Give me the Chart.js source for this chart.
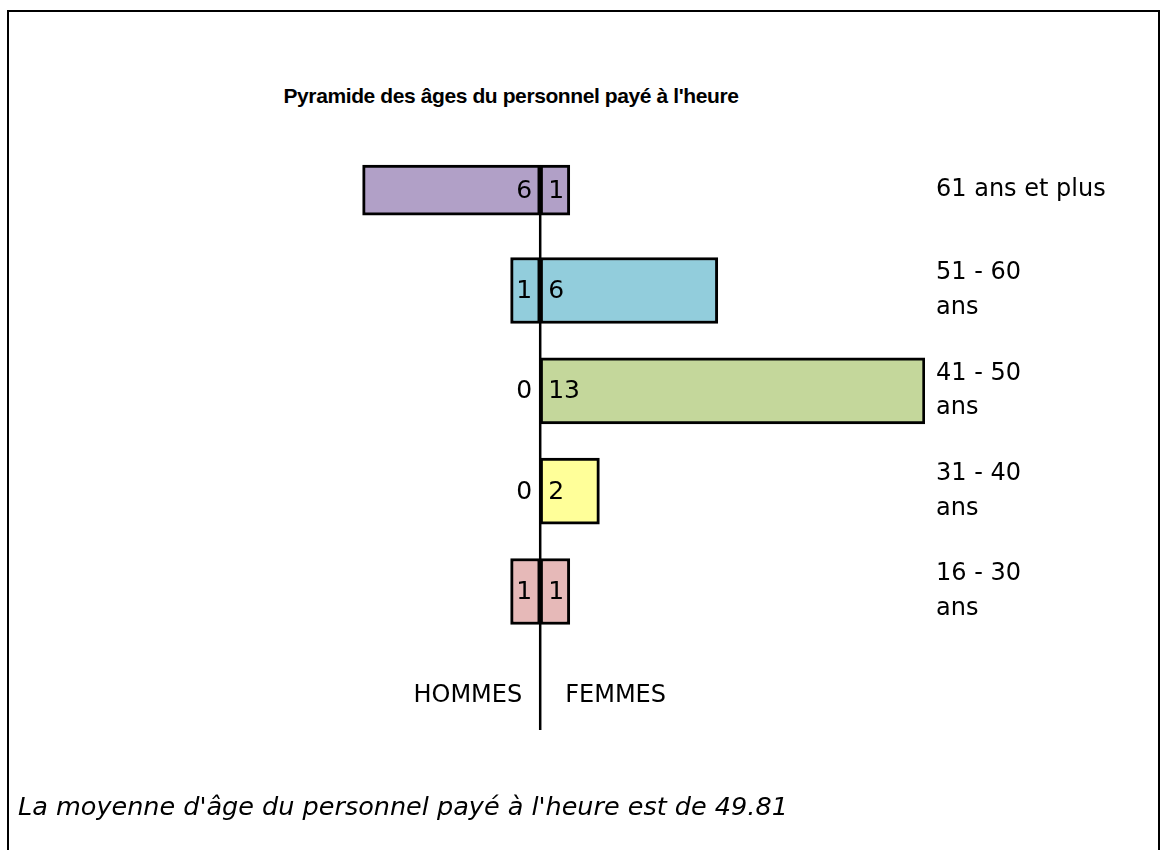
<!DOCTYPE html>
<html>
<head>
<meta charset="utf-8">
<script src="https://cdn.jsdelivr.net/npm/chart.js@4"></script>
<style>
  html, body { margin: 0; padding: 0; background: #fff; width: 1166px; height: 850px; overflow: hidden; }
  .cadre { position: absolute; left: 7px; top: 10px; width: 1149px; height: 900px; border: 2px solid #000; border-bottom: none; }
  .titre { position: absolute; left: 0; width: 1022px; top: 84px; text-align: center; letter-spacing: -0.4px;
           font: bold 21px "Liberation Sans", Arial, sans-serif; color: #000; }
  .note { position: absolute; left: 18px; top: 791px; font: italic 25.5px "DejaVu Sans", sans-serif; color: #000; }
  canvas { position: absolute; left: 0; top: 0; }
</style>
</head>
<body>
<div class="cadre"></div>
<div class="titre">Pyramide des âges du personnel payé à l'heure</div>
<canvas id="pyramide" width="1166" height="850"></canvas>
<div class="note">La moyenne d'âge du personnel payé à l'heure est de 49.81</div>
<script>
'use strict';

// tranches d'âge (dernière ligne vide = rangée HOMMES / FEMMES)
const tranches = [['61 ans et plus'], ['51 - 60', 'ans'], ['41 - 50', 'ans'], ['31 - 40', 'ans'], ['16 - 30', 'ans'], ''];
const hommes = [6, 1, 0, 0, 1];
const femmes = [1, 6, 13, 2, 1];
const couleurs = ['#b1a0c7', '#92cddc', '#c4d79b', '#ffff99', '#e6b9b8'];

const police = '"DejaVu Sans", sans-serif';

function serie(valeurs, signe, garder) {
  return valeurs.map((v, i) => (garder(i) ? signe * v : null));
}

function dataset(label, data, epaisseur) {
  return {
    label,
    data,
    backgroundColor: couleurs,
    borderColor: '#000',
    borderWidth: 3,
    borderSkipped: false,
    barThickness: epaisseur,
    stack: 'pyramide',
  };
}

// valeurs dans les barres + axe central + HOMMES / FEMMES
const etiquettes = {
  id: 'etiquettes',
  afterDatasetsDraw(chart) {
    const ctx = chart.ctx;
    const x0 = chart.scales.x.getPixelForValue(0);
    const yScale = chart.scales.y;
    ctx.save();
    ctx.fillStyle = '#000';
    ctx.textBaseline = 'middle';
    ctx.font = '25px ' + police;
    chart.data.datasets.forEach((ds, d) => {
      const meta = chart.getDatasetMeta(d);
      meta.data.forEach((bar, i) => {
        const v = ds.data[i];
        if (v === null || v === undefined) return;
        if (ds.label.startsWith('H')) {
          ctx.textAlign = 'right';
          ctx.fillText(String(Math.abs(v)), x0 - 8, bar.y + 1);
        } else {
          ctx.textAlign = 'left';
          ctx.fillText(String(v), x0 + 8, bar.y + 1);
        }
      });
    });

    const premiere = chart.getDatasetMeta(0).data[0];
    const haut = premiere.y - premiere.height / 2;
    ctx.strokeStyle = '#000';
    ctx.lineWidth = 2.5;
    ctx.beginPath();
    ctx.moveTo(x0, haut);
    ctx.lineTo(x0, chart.chartArea.bottom - 12);
    ctx.stroke();

    ctx.font = '24px ' + police;
    const yBas = yScale.getPixelForValue(5) + 4;
    ctx.textAlign = 'right';
    ctx.fillText('HOMMES', x0 - 18, yBas);
    ctx.textAlign = 'left';
    ctx.fillText('FEMMES', x0 + 25, yBas);
    ctx.restore();
  },
};

new Chart(document.getElementById('pyramide'), {
  type: 'bar',
  data: {
    labels: tranches,
    datasets: [
      dataset('H-haut', serie(hommes, -1, i => i === 0), 50),
      dataset('F-haut', serie(femmes, 1, i => i === 0), 50),
      dataset('Hommes', serie(hommes, -1, i => i > 0), 66),
      dataset('Femmes', serie(femmes, 1, i => i > 0), 66),
    ],
  },
  options: {
    indexAxis: 'y',
    responsive: false,
    animation: false,
    layout: { padding: { left: 333, top: 140, bottom: 108, right: 0 } },
    plugins: { legend: { display: false }, tooltip: { enabled: false }, title: { display: false } },
    scales: {
      x: { display: false, stacked: true, min: -7, max: 13 },
      y: {
        stacked: true,
        position: 'right',
        grid: { display: false, drawTicks: false },
        border: { display: false },
        afterFit(scale) { scale.width = 241; },
        ticks: {
          padding: 11,
          color: '#000',
          font: { size: 24, family: police, lineHeight: 1.45 },
        },
      },
    },
  },
  plugins: [etiquettes],
});
</script>
</body>
</html>
